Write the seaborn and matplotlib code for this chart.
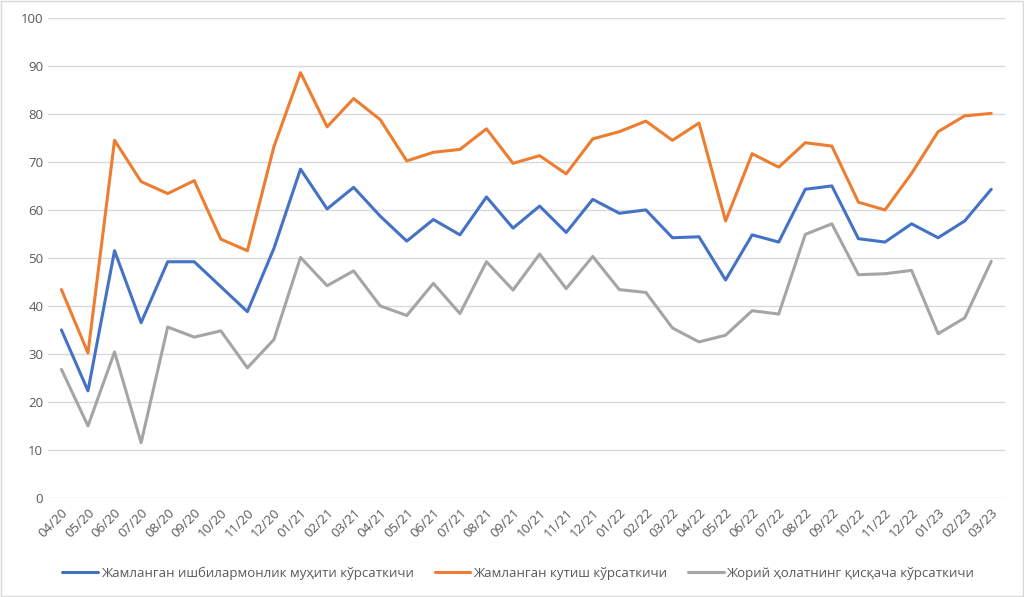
import matplotlib
matplotlib.use("Agg")
import matplotlib.pyplot as plt
import pandas as pd
import seaborn as sns

months = [
    "04/20", "05/20", "06/20", "07/20", "08/20", "09/20", "10/20", "11/20", "12/20",
    "01/21", "02/21", "03/21", "04/21", "05/21", "06/21", "07/21", "08/21", "09/21",
    "10/21", "11/21", "12/21", "01/22", "02/22", "03/22", "04/22", "05/22", "06/22",
    "07/22", "08/22", "09/22", "10/22", "11/22", "12/22", "01/23", "02/23", "03/23",
]

business = [
    35.0, 22.3, 51.5, 36.5, 49.2, 49.2, 44.0, 38.8, 52.0,
    68.5, 60.2, 64.7, 58.7, 53.5, 58.0, 54.8, 62.7, 56.2,
    60.8, 55.3, 62.2, 59.3, 60.0, 54.2, 54.4, 45.4, 54.8,
    53.3, 64.3, 65.0, 54.0, 53.3, 57.1, 54.2, 57.7, 64.3,
]
expectations = [
    43.4, 30.2, 74.5, 65.9, 63.4, 66.1, 53.9, 51.5, 73.2,
    88.6, 77.3, 83.2, 78.8, 70.2, 72.0, 72.6, 76.9, 69.7,
    71.3, 67.5, 74.8, 76.3, 78.5, 74.5, 78.1, 57.7, 71.7,
    68.9, 74.0, 73.3, 61.6, 60.0, 67.6, 76.3, 79.6, 80.1,
]
current = [
    26.8, 15.0, 30.4, 11.5, 35.6, 33.5, 34.8, 27.1, 33.0,
    50.1, 44.2, 47.3, 40.0, 38.0, 44.7, 38.4, 49.2, 43.3,
    50.8, 43.6, 50.3, 43.4, 42.8, 35.4, 32.5, 33.9, 39.0,
    38.3, 54.9, 57.1, 46.5, 46.7, 47.4, 34.2, 37.5, 49.3,
]

series_names = [
    "Жамланган ишбилармонлик муҳити кўрсаткичи",
    "Жамланган кутиш кўрсаткичи",
    "Жорий ҳолатнинг қисқача кўрсаткичи",
]
colors = ["#4472C4", "#ED7D31", "#A5A5A5"]

df = pd.concat([
    pd.DataFrame({"Month": months, "Pos": range(len(months)), "Value": vals, "Series": name})
    for name, vals in zip(series_names, [business, expectations, current])
], ignore_index=True)

sns.set_theme(style="white")
plt.rcParams["font.family"] = ["Open Sans", "DejaVu Sans"]

fig = plt.figure(figsize=(10.24, 5.97), dpi=100)
ax = fig.add_axes([0.047, 0.166, 0.934, 0.804])

sns.lineplot(data=df, x="Pos", y="Value", hue="Series", palette=colors,
             linewidth=2.2, ax=ax, legend=True)

ax.set_xlim(-0.5, len(months) - 0.5)
ax.set_ylim(0, 100)
ax.set_yticks(range(0, 101, 10))
ax.set_xticks(range(len(months)))
ax.set_xticklabels(months, rotation=45, ha="right", rotation_mode="anchor")
ax.tick_params(axis="both", length=0, colors="#595959", labelsize=9.5)
ax.tick_params(axis="x", pad=6)
ax.set_xlabel("")
ax.set_ylabel("")
ax.yaxis.grid(True, color="#D9D9D9", linewidth=1)
ax.set_axisbelow(True)
for s in ax.spines.values():
    s.set_visible(False)

handles, labels = ax.get_legend_handles_labels()
ax.legend_.remove()
fig.legend(handles, labels, loc="center", bbox_to_anchor=(0.506, 0.04), ncol=3,
           frameon=False, fontsize=9.5, handlelength=2.7, handletextpad=0.2,
           columnspacing=1.6, labelcolor="#595959")

fig.patches.append(plt.Rectangle((0.001, 0.001), 0.998, 0.997, transform=fig.transFigure,
                                 fill=False, edgecolor="#D9D9D9", linewidth=1))

fig.savefig("out.png", dpi=100)
